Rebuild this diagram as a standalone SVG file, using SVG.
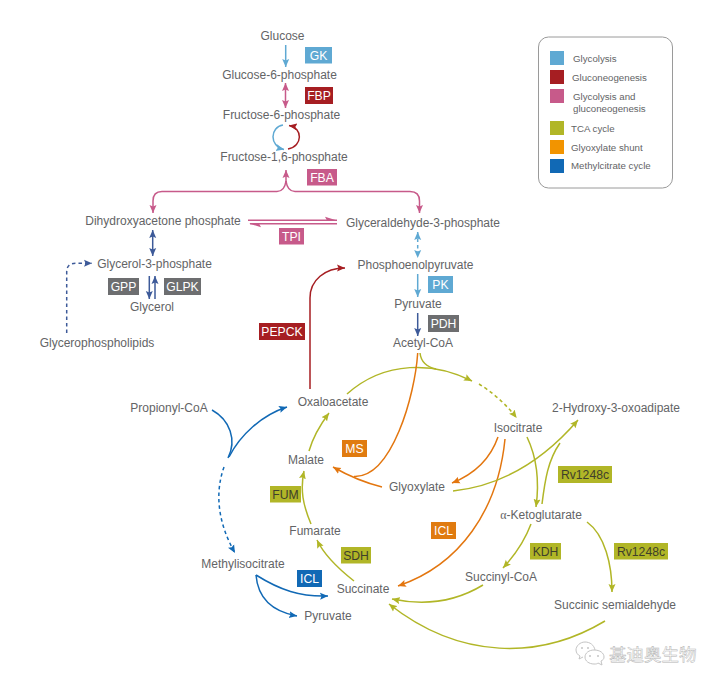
<svg xmlns="http://www.w3.org/2000/svg" width="720" height="686" viewBox="0 0 720 686">
<style>
text{font-family:"Liberation Sans",Arial,sans-serif}
.n{font-size:12px;fill:#636466;text-anchor:middle}
.b{font-size:12.2px;fill:#fff;text-anchor:middle}
.d{fill:#3f3f2a}
.l{font-size:9.7px;fill:#636466}
.c{fill:none;stroke-width:1.5}
.gly{stroke:#5fa9d3}.red{stroke:#a61e22}.pnk{stroke:#c75a8a}.tca{stroke:#b1b627}.org{stroke:#e3760f}.mth{stroke:#1169b5}.nvy{stroke:#3d5a99}
.dash{stroke-dasharray:3.500 3}
</style>
<defs>
<marker id="mgly" markerUnits="userSpaceOnUse" markerWidth="9" markerHeight="8" refX="8" refY="4" orient="auto-start-reverse"><path d="M0 0.500L8 4L0 7.500L1.500 4Z" fill="#5fa9d3"/></marker>
<marker id="mred" markerUnits="userSpaceOnUse" markerWidth="9" markerHeight="8" refX="8" refY="4" orient="auto-start-reverse"><path d="M0 0.500L8 4L0 7.500L1.500 4Z" fill="#a61e22"/></marker>
<marker id="mpnk" markerUnits="userSpaceOnUse" markerWidth="9" markerHeight="8" refX="8" refY="4" orient="auto-start-reverse"><path d="M0 0.500L8 4L0 7.500L1.500 4Z" fill="#c75a8a"/></marker>
<marker id="mtca" markerUnits="userSpaceOnUse" markerWidth="9" markerHeight="8" refX="8" refY="4" orient="auto-start-reverse"><path d="M0 0.500L8 4L0 7.500L1.500 4Z" fill="#b1b627"/></marker>
<marker id="morg" markerUnits="userSpaceOnUse" markerWidth="9" markerHeight="8" refX="8" refY="4" orient="auto-start-reverse"><path d="M0 0.500L8 4L0 7.500L1.500 4Z" fill="#e3760f"/></marker>
<marker id="mmth" markerUnits="userSpaceOnUse" markerWidth="9" markerHeight="8" refX="8" refY="4" orient="auto-start-reverse"><path d="M0 0.500L8 4L0 7.500L1.500 4Z" fill="#1169b5"/></marker>
<marker id="mnvy" markerUnits="userSpaceOnUse" markerWidth="9" markerHeight="8" refX="8" refY="4" orient="auto-start-reverse"><path d="M0 0.500L8 4L0 7.500L1.500 4Z" fill="#3d5a99"/></marker>
</defs>
<rect width="720" height="686" fill="#fff"/>
<g id="connectors">
<path class="c gly" marker-end="url(#mgly)" d="M285.700 45V67"/>
<path class="c pnk" marker-start="url(#mpnk)" marker-end="url(#mpnk)" d="M285.500 83V108"/>
<path class="c gly" marker-end="url(#mgly)" d="M283 125C270 127 269 146 284 149.500"/>
<path class="c red" marker-end="url(#mred)" d="M288 149C303 146 303 128 289 125.500"/>
<path class="c pnk" marker-end="url(#mpnk)" d="M286 182V170"/>
<path class="c pnk" marker-end="url(#mpnk)" d="M286 181C285 188 282 191.500 277 191.500H162C156 191.500 153 195 153 201V213"/>
<path class="c pnk" marker-end="url(#mpnk)" d="M286 181C287 188 290 191.500 295 191.500H410C416 191.500 419.500 195 419.500 201V213"/>
<path class="c pnk" d="M248 220.200H337M337 223.800H250"/>
<path d="M337 220.500L325 216.800L327 220.500ZM249 223.500L261 227.200L259 223.500Z" fill="#c75a8a"/>
<path class="c nvy" marker-start="url(#mnvy)" marker-end="url(#mnvy)" d="M152.700 230V256"/>
<path class="c nvy" marker-end="url(#mnvy)" d="M149.300 276V299"/>
<path class="c nvy" marker-end="url(#mnvy)" d="M155 299V276"/>
<path class="c nvy dash" marker-end="url(#mnvy)" d="M66.700 333V272C66.700 266 70 263.300 76 263.300H92"/>
<path class="c gly dash" marker-start="url(#mgly)" marker-end="url(#mgly)" d="M417.700 232V258"/>
<path class="c gly" marker-end="url(#mgly)" d="M417.700 274V297"/>
<path class="c nvy" marker-end="url(#mnvy)" d="M417.700 313V336"/>
<path class="c red" marker-end="url(#mred)" d="M310 389V298C310 280 325 268 345 268"/>
<path class="c tca" marker-end="url(#mtca)" d="M347 394C385 360 435 362 472 381"/>
<path class="c tca dash" marker-end="url(#mtca)" d="M479 384C492 392 506 404 516.700 418"/>
<path class="c tca" d="M420 353C421 362 427 367 436 369"/>
<path class="c org" d="M417.700 353C415 395 392 478 354 476.500"/>
<path class="c org" marker-end="url(#morg)" d="M382 487C362 482 347 475 333 467"/>
<path class="c org" marker-end="url(#morg)" d="M498 437C490 460 472 475 452 483"/>
<path class="c org" marker-end="url(#morg)" d="M505 439C498 510 460 565 398 586"/>
<path class="c tca" marker-end="url(#mtca)" d="M527 437C538 460 539 485 536 507"/>
<path class="c tca" d="M542 504C545 480 548 460 560 443"/>
<path class="c tca" marker-end="url(#mtca)" d="M453 491C490 487 535 470 578 420"/>
<path class="c tca" marker-end="url(#mtca)" d="M531 524C525 540 515 555 503 568"/>
<path class="c tca" marker-end="url(#mtca)" d="M587 522C605 535 612 565 612 592"/>
<path class="c tca" marker-end="url(#mtca)" d="M483 585C455 602 425 606 392 599"/>
<path class="c tca" marker-end="url(#mtca)" d="M605 621C540 660 460 660 389 604"/>
<path class="c tca" marker-end="url(#mtca)" d="M354 581C340 570 325 557 317 540"/>
<path class="c tca" marker-end="url(#mtca)" d="M311 524C303 505 300 490 304 471"/>
<path class="c tca" marker-end="url(#mtca)" d="M309 451C313 437 320 425 329 413"/>
<path class="c mth" d="M212 410C230 420 237 440 228 458"/>
<path class="c mth" marker-end="url(#mmth)" d="M229 457C240 435 262 415 287 407"/>
<path class="c mth dash" marker-end="url(#mmth)" d="M224 467C214 495 219 525 235 553"/>
<path class="c mth" marker-end="url(#mmth)" d="M256 575C280 590 300 597 328 596"/>
<path class="c mth" marker-end="url(#mmth)" d="M256 575C258 600 275 612 297 616"/>
</g>
<g id="nodes">
<g id="n-glucose"><text class="n" x="282.500" y="39.500">Glucose</text></g>
<g id="n-g6p"><text class="n" x="279.500" y="79">Glucose-6-phosphate</text></g>
<g id="n-f6p"><text class="n" x="281.500" y="119">Fructose-6-phosphate</text></g>
<g id="n-f16p"><text class="n" x="284" y="161">Fructose-1,6-phosphate</text></g>
<g id="n-dhap"><text class="n" x="163" y="225">Dihydroxyacetone phosphate</text></g>
<g id="n-gap"><text class="n" x="423" y="227">Glyceraldehyde-3-phosphate</text></g>
<g id="n-g3p"><text class="n" x="154.500" y="268">Glycerol-3-phosphate</text></g>
<g id="n-glycerol"><text class="n" x="152" y="311">Glycerol</text></g>
<g id="n-gpl"><text class="n" x="97" y="347">Glycerophospholipids</text></g>
<g id="n-pep"><text class="n" x="415.500" y="269">Phosphoenolpyruvate</text></g>
<g id="n-pyr1"><text class="n" x="418" y="308">Pyruvate</text></g>
<g id="n-accoa"><text class="n" x="423" y="347">Acetyl-CoA</text></g>
<g id="n-oaa"><text class="n" x="333" y="406">Oxaloacetate</text></g>
<g id="n-propcoa"><text class="n" x="169" y="412">Propionyl-CoA</text></g>
<g id="n-malate"><text class="n" x="306" y="464">Malate</text></g>
<g id="n-fumarate"><text class="n" x="315" y="535">Fumarate</text></g>
<g id="n-micit"><text class="n" x="243" y="568">Methylisocitrate</text></g>
<g id="n-succ"><text class="n" x="363" y="593">Succinate</text></g>
<g id="n-pyr2"><text class="n" x="328" y="620">Pyruvate</text></g>
<g id="n-glyox"><text class="n" x="417" y="491">Glyoxylate</text></g>
<g id="n-icit"><text class="n" x="518" y="432">Isocitrate</text></g>
<g id="n-hoa"><text class="n" x="616" y="412">2-Hydroxy-3-oxoadipate</text></g>
<g id="n-akg"><text class="n" x="541" y="519"><tspan font-family="'Liberation Serif',serif">α</tspan>-Ketoglutarate</text></g>
<g id="n-succoa"><text class="n" x="501" y="581">Succinyl-CoA</text></g>
<g id="n-ssa"><text class="n" x="615" y="609">Succinic semialdehyde</text></g>
</g>
<g id="enzymes">
<g id="e-gk"><rect x="305" y="47" width="27" height="16.500" fill="#5fa9d3"/><text class="b" x="318.500" y="59.500">GK</text></g>
<g id="e-fbp"><rect x="305" y="87" width="28" height="17" fill="#a61e22"/><text class="b" x="319" y="100">FBP</text></g>
<g id="e-fba"><rect x="307" y="169" width="30" height="16.500" fill="#c75a8a"/><text class="b" x="322" y="181.500">FBA</text></g>
<g id="e-tpi"><rect x="279" y="228" width="25" height="16.500" fill="#c75a8a"/><text class="b" x="291.500" y="240.500">TPI</text></g>
<g id="e-gpp"><rect x="108" y="278" width="31" height="17" fill="#6d6e70"/><text class="b" x="123.500" y="291">GPP</text></g>
<g id="e-glpk"><rect x="164" y="278" width="37" height="17" fill="#6d6e70"/><text class="b" x="182.500" y="291">GLPK</text></g>
<g id="e-pepck"><rect x="259" y="323" width="46" height="17" fill="#a61e22"/><text class="b" x="282" y="336">PEPCK</text></g>
<g id="e-pk"><rect x="428" y="276" width="25" height="17" fill="#5fa9d3"/><text class="b" x="440.500" y="289">PK</text></g>
<g id="e-pdh"><rect x="428" y="315" width="31" height="17" fill="#6d6e70"/><text class="b" x="443.500" y="328">PDH</text></g>
<g id="e-ms"><rect x="342" y="440" width="25" height="17" fill="#e07b10"/><text class="b" x="354.500" y="453">MS</text></g>
<g id="e-fum"><rect x="270" y="486" width="31" height="16.500" fill="#b1b627"/><text class="b d" x="285.500" y="498.500">FUM</text></g>
<g id="e-sdh"><rect x="341" y="547" width="30" height="16.500" fill="#b1b627"/><text class="b d" x="356" y="559.500">SDH</text></g>
<g id="e-icl1"><rect x="297" y="570" width="25" height="17" fill="#1169b5"/><text class="b" x="309.500" y="583">ICL</text></g>
<g id="e-icl2"><rect x="431" y="522" width="25" height="17" fill="#e07b10"/><text class="b" x="443.500" y="535">ICL</text></g>
<g id="e-rv1"><rect x="558" y="466" width="54" height="17" fill="#b1b627"/><text class="b d" x="585" y="479">Rv1248c</text></g>
<g id="e-kdh"><rect x="530" y="543" width="31" height="16.500" fill="#b1b627"/><text class="b d" x="545.500" y="555.500">KDH</text></g>
<g id="e-rv2"><rect x="614" y="543" width="54" height="16.500" fill="#b1b627"/><text class="b d" x="641" y="555.500">Rv1248c</text></g>
</g>
<g id="legend">
<rect x="538.500" y="37" width="134" height="151" rx="10" fill="#fff" stroke="#9a9a9a" stroke-width="1"/>
<rect x="550" y="51" width="14" height="14" fill="#5fa9d3"/><text class="l" x="573" y="62">Glycolysis</text>
<rect x="550" y="70" width="14" height="14" fill="#a61e22"/><text class="l" x="572" y="81">Gluconeogenesis</text>
<rect x="550" y="89" width="14" height="14" fill="#c75a8a"/><text class="l" x="573" y="100">Glycolysis and</text><text class="l" x="573" y="112">gluconeogenesis</text>
<rect x="550" y="121" width="14" height="14" fill="#b1b627"/><text class="l" x="571" y="132">TCA cycle</text>
<rect x="550" y="140" width="14" height="14" fill="#f29400"/><text class="l" x="571" y="151">Glyoxylate shunt</text>
<rect x="550" y="159" width="14" height="14" fill="#1169b5"/><text class="l" x="571" y="169">Methylcitrate cycle</text>
</g>
<g id="watermark">
<path d="M595 650C594 645 590 642 585 642C580 642 576 646 576 650C576 653 578 655 580 656L579 659L583 657" fill="none" stroke="#c4c4c4" stroke-width="1"/>
<path d="M594 650C589 650 585 653 585 657C585 661 589 664 594 664C596 664 597 664 598 663L602 665L601 661C603 660 604 659 604 657C604 653 600 650 594 650Z" fill="#fff" stroke="#c4c4c4" stroke-width="1"/>
<circle cx="590" cy="656" r="1" fill="#c4c4c4"/><circle cx="598" cy="656" r="1" fill="#c4c4c4"/><circle cx="582" cy="648" r="1" fill="#c4c4c4"/><circle cx="588" cy="648" r="1" fill="#c4c4c4"/>
<text x="609" y="661" font-size="17.500" style="font-family:'Noto Sans CJK SC',sans-serif" fill="#fff" stroke="#b4b4b4" stroke-width="0.500">基迪奥生物</text>
</g>
</svg>
